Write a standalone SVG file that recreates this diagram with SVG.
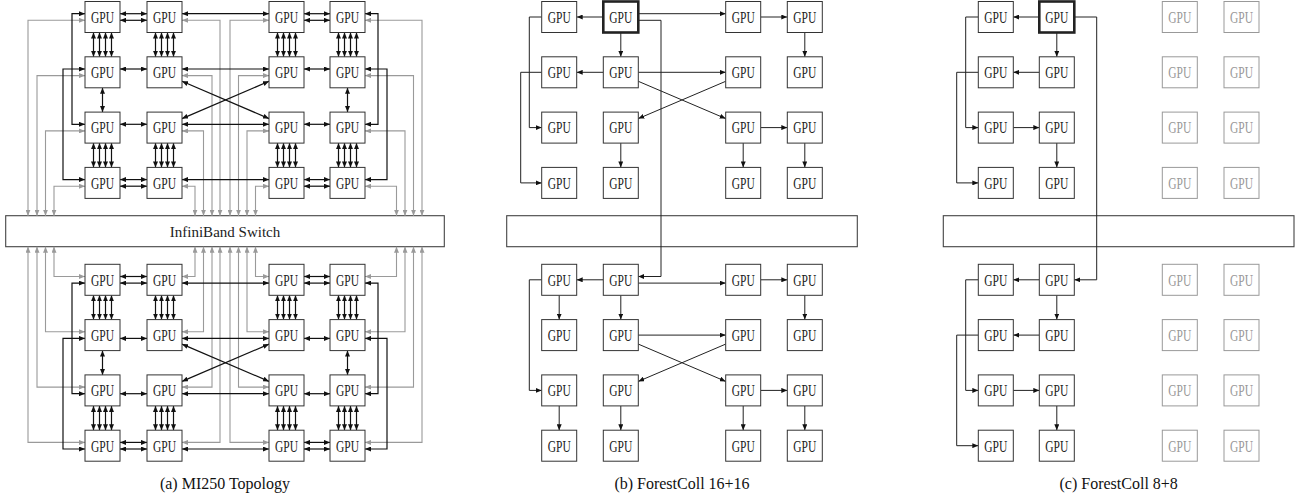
<svg xmlns="http://www.w3.org/2000/svg" width="1299" height="498" viewBox="0 0 1299 498">
<style>
.gpu rect{fill:#fff;stroke:#333;stroke-width:1}
.gpu text{font-family:"Liberation Serif","Times New Roman",serif;font-size:16.5px;text-anchor:middle;fill:#222}
.root rect{stroke:#222;stroke-width:2.6}
.off rect{stroke:#999}
.off text{fill:#999}
.sw rect{fill:none;stroke:#444;stroke-width:1.1}
.sw text{font-family:"Liberation Serif","Times New Roman",serif;font-size:15px;text-anchor:middle;fill:#222}
.bi{fill:none;stroke:#111;stroke-width:1.2;marker-start:url(#ak);marker-end:url(#ak)}
.gr{fill:none;stroke:#9a9a9a;stroke-width:1.1;marker-start:url(#ag);marker-end:url(#ag)}
.uni{fill:none;stroke:#222;stroke-width:1;marker-end:url(#ak)}
.cap{font-family:"Liberation Serif","Times New Roman",serif;font-size:16px;text-anchor:middle;fill:#111}
</style>
<defs>
<marker id="ak" viewBox="0 0 6 5" refX="6" refY="2.5" markerWidth="6" markerHeight="5" markerUnits="userSpaceOnUse" orient="auto-start-reverse"><path d="M0,0 L6,2.5 L0,5 Z" fill="#111"/></marker>
<marker id="ag" viewBox="0 0 6 5" refX="6" refY="2.5" markerWidth="6" markerHeight="5" markerUnits="userSpaceOnUse" orient="auto-start-reverse"><path d="M0,0 L6,2.5 L0,5 Z" fill="#9a9a9a"/></marker>
</defs>

<!-- switches -->
<g id="a-switch" class="sw"><rect x="5.7" y="215.7" width="438.6" height="31"/><text x="225" y="237">InfiniBand Switch</text></g>
<g id="b-switch" class="sw"><rect x="506.7" y="215.7" width="350.6" height="31"/></g>
<g id="c-switch" class="sw"><rect x="943.3" y="215.7" width="350.7" height="31"/></g>

<!-- connectors -->
<g id="connectors">
<path class="gr" d="M85,20.3 H28 V215.7"/>
<path class="gr" d="M85,75.6 H37 V215.7"/>
<path class="gr" d="M85,130.9 H45.5 V215.7"/>
<path class="gr" d="M85,186.2 H54 V215.7"/>
<path class="gr" d="M182,20.3 H220 V215.7"/>
<path class="gr" d="M182,75.6 H212 V215.7"/>
<path class="gr" d="M182,130.9 H203.5 V215.7"/>
<path class="gr" d="M182,186.2 H195 V215.7"/>
<path class="gr" d="M269,20.3 H230 V215.7"/>
<path class="gr" d="M269,75.6 H238.5 V215.7"/>
<path class="gr" d="M269,130.9 H247 V215.7"/>
<path class="gr" d="M269,186.2 H255.5 V215.7"/>
<path class="gr" d="M365,20.3 H422 V215.7"/>
<path class="gr" d="M365,75.6 H413.5 V215.7"/>
<path class="gr" d="M365,130.9 H405 V215.7"/>
<path class="gr" d="M365,186.2 H396.5 V215.7"/>
<path class="gr" d="M85,276.5 H54 V246.7"/>
<path class="gr" d="M85,331.8 H45.5 V246.7"/>
<path class="gr" d="M85,387.1 H37 V246.7"/>
<path class="gr" d="M85,442.4 H28 V246.7"/>
<path class="gr" d="M182,276.5 H195 V246.7"/>
<path class="gr" d="M182,331.8 H203.5 V246.7"/>
<path class="gr" d="M182,387.1 H212 V246.7"/>
<path class="gr" d="M182,442.4 H220 V246.7"/>
<path class="gr" d="M269,276.5 H255.5 V246.7"/>
<path class="gr" d="M269,331.8 H247 V246.7"/>
<path class="gr" d="M269,387.1 H238.5 V246.7"/>
<path class="gr" d="M269,442.4 H230 V246.7"/>
<path class="gr" d="M365,276.5 H396.5 V246.7"/>
<path class="gr" d="M365,331.8 H405 V246.7"/>
<path class="gr" d="M365,387.1 H413.5 V246.7"/>
<path class="gr" d="M365,442.4 H422 V246.7"/>

<path class="bi" d="M120,13.7 H147"/><path class="bi" d="M120,20.3 H147"/>
<path class="bi" d="M182,13.7 H269"/>
<path class="bi" d="M304,13.7 H330"/><path class="bi" d="M304,20.3 H330"/>
<path class="bi" d="M120,69 H147"/><path class="bi" d="M182,69 H269"/><path class="bi" d="M304,69 H330"/>
<path class="bi" d="M120,124.3 H147"/><path class="bi" d="M182,124.3 H269"/><path class="bi" d="M304,124.3 H330"/>
<path class="bi" d="M120,179.6 H147"/><path class="bi" d="M120,186.2 H147"/>
<path class="bi" d="M182,179.6 H269"/>
<path class="bi" d="M304,179.6 H330"/><path class="bi" d="M304,186.2 H330"/>
<path class="bi" d="M182,81.3 L269,118.6"/>
<path class="bi" d="M269,81.3 L182,118.6"/>
<path class="bi" d="M85,13.7 H72 V124.3 H85"/>
<path class="bi" d="M85,69 H63 V179.6 H85"/>
<path class="bi" d="M365,13.7 H378 V124.3 H365"/>
<path class="bi" d="M365,69 H387 V179.6 H365"/>
<path class="bi" d="M93.5,32.5 V56.8"/><path class="bi" d="M99.5,32.5 V56.8"/><path class="bi" d="M105.5,32.5 V56.8"/><path class="bi" d="M111.5,32.5 V56.8"/>
<path class="bi" d="M155.5,32.5 V56.8"/><path class="bi" d="M161.5,32.5 V56.8"/><path class="bi" d="M167.5,32.5 V56.8"/><path class="bi" d="M173.5,32.5 V56.8"/>
<path class="bi" d="M277.5,32.5 V56.8"/><path class="bi" d="M283.5,32.5 V56.8"/><path class="bi" d="M289.5,32.5 V56.8"/><path class="bi" d="M295.5,32.5 V56.8"/>
<path class="bi" d="M338.5,32.5 V56.8"/><path class="bi" d="M344.5,32.5 V56.8"/><path class="bi" d="M350.5,32.5 V56.8"/><path class="bi" d="M356.5,32.5 V56.8"/>
<path class="bi" d="M93.5,143.1 V167.4"/><path class="bi" d="M99.5,143.1 V167.4"/><path class="bi" d="M105.5,143.1 V167.4"/><path class="bi" d="M111.5,143.1 V167.4"/>
<path class="bi" d="M155.5,143.1 V167.4"/><path class="bi" d="M161.5,143.1 V167.4"/><path class="bi" d="M167.5,143.1 V167.4"/><path class="bi" d="M173.5,143.1 V167.4"/>
<path class="bi" d="M277.5,143.1 V167.4"/><path class="bi" d="M283.5,143.1 V167.4"/><path class="bi" d="M289.5,143.1 V167.4"/><path class="bi" d="M295.5,143.1 V167.4"/>
<path class="bi" d="M338.5,143.1 V167.4"/><path class="bi" d="M344.5,143.1 V167.4"/><path class="bi" d="M350.5,143.1 V167.4"/><path class="bi" d="M356.5,143.1 V167.4"/>
<path class="bi" d="M102.5,87.8 V112.1"/><path class="bi" d="M347.5,87.8 V112.1"/>

<path class="bi" d="M120,276.5 H147"/><path class="bi" d="M120,283.1 H147"/>
<path class="bi" d="M182,283.1 H269"/>
<path class="bi" d="M304,276.5 H330"/><path class="bi" d="M304,283.1 H330"/>
<path class="bi" d="M120,338.4 H147"/><path class="bi" d="M182,338.4 H269"/><path class="bi" d="M304,338.4 H330"/>
<path class="bi" d="M120,393.7 H147"/><path class="bi" d="M182,393.7 H269"/><path class="bi" d="M304,393.7 H330"/>
<path class="bi" d="M120,442.4 H147"/><path class="bi" d="M120,449 H147"/>
<path class="bi" d="M182,449 H269"/>
<path class="bi" d="M304,442.4 H330"/><path class="bi" d="M304,449 H330"/>
<path class="bi" d="M182,344.1 L269,381.4"/>
<path class="bi" d="M269,344.1 L182,381.4"/>
<path class="bi" d="M85,283.1 H72 V393.7 H85"/>
<path class="bi" d="M85,338.4 H63 V449 H85"/>
<path class="bi" d="M365,283.1 H378 V393.7 H365"/>
<path class="bi" d="M365,338.4 H387 V449 H365"/>
<path class="bi" d="M93.5,295.3 V319.6"/><path class="bi" d="M99.5,295.3 V319.6"/><path class="bi" d="M105.5,295.3 V319.6"/><path class="bi" d="M111.5,295.3 V319.6"/>
<path class="bi" d="M155.5,295.3 V319.6"/><path class="bi" d="M161.5,295.3 V319.6"/><path class="bi" d="M167.5,295.3 V319.6"/><path class="bi" d="M173.5,295.3 V319.6"/>
<path class="bi" d="M277.5,295.3 V319.6"/><path class="bi" d="M283.5,295.3 V319.6"/><path class="bi" d="M289.5,295.3 V319.6"/><path class="bi" d="M295.5,295.3 V319.6"/>
<path class="bi" d="M338.5,295.3 V319.6"/><path class="bi" d="M344.5,295.3 V319.6"/><path class="bi" d="M350.5,295.3 V319.6"/><path class="bi" d="M356.5,295.3 V319.6"/>
<path class="bi" d="M93.5,405.9 V430.2"/><path class="bi" d="M99.5,405.9 V430.2"/><path class="bi" d="M105.5,405.9 V430.2"/><path class="bi" d="M111.5,405.9 V430.2"/>
<path class="bi" d="M155.5,405.9 V430.2"/><path class="bi" d="M161.5,405.9 V430.2"/><path class="bi" d="M167.5,405.9 V430.2"/><path class="bi" d="M173.5,405.9 V430.2"/>
<path class="bi" d="M277.5,405.9 V430.2"/><path class="bi" d="M283.5,405.9 V430.2"/><path class="bi" d="M289.5,405.9 V430.2"/><path class="bi" d="M295.5,405.9 V430.2"/>
<path class="bi" d="M338.5,405.9 V430.2"/><path class="bi" d="M344.5,405.9 V430.2"/><path class="bi" d="M350.5,405.9 V430.2"/><path class="bi" d="M356.5,405.9 V430.2"/>
<path class="bi" d="M102.5,350.6 V374.9"/><path class="bi" d="M347.5,350.6 V374.9"/>

<path class="uni" d="M603.3,17 H576.7"/>
<path class="uni" d="M541.7,17 H529.3 V127.6 H541.7"/>
<path class="uni" d="M620.8,32.5 V56.8"/>
<path class="uni" d="M603.3,72.3 H576.7"/>
<path class="uni" d="M541.7,72.3 H520.7 V182.9 H541.7"/>
<path class="uni" d="M638.3,13.7 H725.7"/>
<path class="uni" d="M638.3,20.3 H661 V276.5 H638.3"/>
<path class="uni" d="M760.7,17 H787.3"/>
<path class="uni" d="M804.8,32.5 V56.8"/>
<path class="uni" d="M638.3,72.3 H725.7"/>
<path class="uni" d="M638.3,81.3 L725.7,118.6"/>
<path class="uni" d="M725.7,81.3 L638.3,118.6"/>
<path class="uni" d="M620.8,143.1 V167.4"/>
<path class="uni" d="M760.7,127.6 H787.3"/>
<path class="uni" d="M743.2,143.1 V167.4"/>
<path class="uni" d="M804.8,143.1 V167.4"/>
<path class="uni" d="M603.3,279.8 H576.7"/>
<path class="uni" d="M559.2,295.3 V319.6"/>
<path class="uni" d="M541.7,279.8 H529.3 V390.4 H541.7"/>
<path class="uni" d="M620.8,295.3 V319.6"/>
<path class="uni" d="M638.3,283.1 H725.7"/>
<path class="uni" d="M760.7,279.8 H787.3"/>
<path class="uni" d="M804.8,295.3 V319.6"/>
<path class="uni" d="M638.3,335.1 H725.7"/>
<path class="uni" d="M638.3,344.1 L725.7,381.4"/>
<path class="uni" d="M725.7,344.1 L638.3,381.4"/>
<path class="uni" d="M559.2,405.9 V430.2"/>
<path class="uni" d="M620.8,405.9 V430.2"/>
<path class="uni" d="M760.7,390.4 H787.3"/>
<path class="uni" d="M743.2,405.9 V430.2"/>
<path class="uni" d="M804.8,405.9 V430.2"/>

<path class="uni" d="M1039.3,17 H1013.3"/>
<path class="uni" d="M978.3,17 H965.7 V127.6 H978.3"/>
<path class="uni" d="M1056.8,32.5 V56.8"/>
<path class="uni" d="M1039.3,72.3 H1013.3"/>
<path class="uni" d="M978.3,72.3 H956.7 V182.9 H978.3"/>
<path class="uni" d="M1013.3,127.6 H1039.3"/>
<path class="uni" d="M1056.8,143.1 V167.4"/>
<path class="uni" d="M1074.3,17 H1096.7 V279.8 H1074.3"/>
<path class="uni" d="M1039.3,279.8 H1013.3"/>
<path class="uni" d="M978.3,279.8 H965.7 V390.4 H978.3"/>
<path class="uni" d="M1056.8,295.3 V319.6"/>
<path class="uni" d="M1039.3,335.1 H1013.3"/>
<path class="uni" d="M978.3,335.1 H956.7 V445.7 H978.3"/>
<path class="uni" d="M1013.3,390.4 H1039.3"/>
<path class="uni" d="M1056.8,405.9 V430.2"/>
</g>

<g id="a-t11" class="gpu"><rect x="85" y="1.5" width="35" height="31"/><text x="102.5" y="22.8" textLength="23" lengthAdjust="spacingAndGlyphs">GPU</text></g>
<g id="a-t12" class="gpu"><rect x="147" y="1.5" width="35" height="31"/><text x="164.5" y="22.8" textLength="23" lengthAdjust="spacingAndGlyphs">GPU</text></g>
<g id="a-t13" class="gpu"><rect x="269" y="1.5" width="35" height="31"/><text x="286.5" y="22.8" textLength="23" lengthAdjust="spacingAndGlyphs">GPU</text></g>
<g id="a-t14" class="gpu"><rect x="330" y="1.5" width="35" height="31"/><text x="347.5" y="22.8" textLength="23" lengthAdjust="spacingAndGlyphs">GPU</text></g>
<g id="a-t21" class="gpu"><rect x="85" y="56.8" width="35" height="31"/><text x="102.5" y="78.1" textLength="23" lengthAdjust="spacingAndGlyphs">GPU</text></g>
<g id="a-t22" class="gpu"><rect x="147" y="56.8" width="35" height="31"/><text x="164.5" y="78.1" textLength="23" lengthAdjust="spacingAndGlyphs">GPU</text></g>
<g id="a-t23" class="gpu"><rect x="269" y="56.8" width="35" height="31"/><text x="286.5" y="78.1" textLength="23" lengthAdjust="spacingAndGlyphs">GPU</text></g>
<g id="a-t24" class="gpu"><rect x="330" y="56.8" width="35" height="31"/><text x="347.5" y="78.1" textLength="23" lengthAdjust="spacingAndGlyphs">GPU</text></g>
<g id="a-t31" class="gpu"><rect x="85" y="112.1" width="35" height="31"/><text x="102.5" y="133.4" textLength="23" lengthAdjust="spacingAndGlyphs">GPU</text></g>
<g id="a-t32" class="gpu"><rect x="147" y="112.1" width="35" height="31"/><text x="164.5" y="133.4" textLength="23" lengthAdjust="spacingAndGlyphs">GPU</text></g>
<g id="a-t33" class="gpu"><rect x="269" y="112.1" width="35" height="31"/><text x="286.5" y="133.4" textLength="23" lengthAdjust="spacingAndGlyphs">GPU</text></g>
<g id="a-t34" class="gpu"><rect x="330" y="112.1" width="35" height="31"/><text x="347.5" y="133.4" textLength="23" lengthAdjust="spacingAndGlyphs">GPU</text></g>
<g id="a-t41" class="gpu"><rect x="85" y="167.4" width="35" height="31"/><text x="102.5" y="188.7" textLength="23" lengthAdjust="spacingAndGlyphs">GPU</text></g>
<g id="a-t42" class="gpu"><rect x="147" y="167.4" width="35" height="31"/><text x="164.5" y="188.7" textLength="23" lengthAdjust="spacingAndGlyphs">GPU</text></g>
<g id="a-t43" class="gpu"><rect x="269" y="167.4" width="35" height="31"/><text x="286.5" y="188.7" textLength="23" lengthAdjust="spacingAndGlyphs">GPU</text></g>
<g id="a-t44" class="gpu"><rect x="330" y="167.4" width="35" height="31"/><text x="347.5" y="188.7" textLength="23" lengthAdjust="spacingAndGlyphs">GPU</text></g>
<g id="a-b11" class="gpu"><rect x="85" y="264.3" width="35" height="31"/><text x="102.5" y="285.6" textLength="23" lengthAdjust="spacingAndGlyphs">GPU</text></g>
<g id="a-b12" class="gpu"><rect x="147" y="264.3" width="35" height="31"/><text x="164.5" y="285.6" textLength="23" lengthAdjust="spacingAndGlyphs">GPU</text></g>
<g id="a-b13" class="gpu"><rect x="269" y="264.3" width="35" height="31"/><text x="286.5" y="285.6" textLength="23" lengthAdjust="spacingAndGlyphs">GPU</text></g>
<g id="a-b14" class="gpu"><rect x="330" y="264.3" width="35" height="31"/><text x="347.5" y="285.6" textLength="23" lengthAdjust="spacingAndGlyphs">GPU</text></g>
<g id="a-b21" class="gpu"><rect x="85" y="319.6" width="35" height="31"/><text x="102.5" y="340.9" textLength="23" lengthAdjust="spacingAndGlyphs">GPU</text></g>
<g id="a-b22" class="gpu"><rect x="147" y="319.6" width="35" height="31"/><text x="164.5" y="340.9" textLength="23" lengthAdjust="spacingAndGlyphs">GPU</text></g>
<g id="a-b23" class="gpu"><rect x="269" y="319.6" width="35" height="31"/><text x="286.5" y="340.9" textLength="23" lengthAdjust="spacingAndGlyphs">GPU</text></g>
<g id="a-b24" class="gpu"><rect x="330" y="319.6" width="35" height="31"/><text x="347.5" y="340.9" textLength="23" lengthAdjust="spacingAndGlyphs">GPU</text></g>
<g id="a-b31" class="gpu"><rect x="85" y="374.9" width="35" height="31"/><text x="102.5" y="396.2" textLength="23" lengthAdjust="spacingAndGlyphs">GPU</text></g>
<g id="a-b32" class="gpu"><rect x="147" y="374.9" width="35" height="31"/><text x="164.5" y="396.2" textLength="23" lengthAdjust="spacingAndGlyphs">GPU</text></g>
<g id="a-b33" class="gpu"><rect x="269" y="374.9" width="35" height="31"/><text x="286.5" y="396.2" textLength="23" lengthAdjust="spacingAndGlyphs">GPU</text></g>
<g id="a-b34" class="gpu"><rect x="330" y="374.9" width="35" height="31"/><text x="347.5" y="396.2" textLength="23" lengthAdjust="spacingAndGlyphs">GPU</text></g>
<g id="a-b41" class="gpu"><rect x="85" y="430.2" width="35" height="31"/><text x="102.5" y="451.5" textLength="23" lengthAdjust="spacingAndGlyphs">GPU</text></g>
<g id="a-b42" class="gpu"><rect x="147" y="430.2" width="35" height="31"/><text x="164.5" y="451.5" textLength="23" lengthAdjust="spacingAndGlyphs">GPU</text></g>
<g id="a-b43" class="gpu"><rect x="269" y="430.2" width="35" height="31"/><text x="286.5" y="451.5" textLength="23" lengthAdjust="spacingAndGlyphs">GPU</text></g>
<g id="a-b44" class="gpu"><rect x="330" y="430.2" width="35" height="31"/><text x="347.5" y="451.5" textLength="23" lengthAdjust="spacingAndGlyphs">GPU</text></g>

<g id="b-t11" class="gpu"><rect x="541.7" y="1.5" width="35" height="31"/><text x="559.2" y="22.8" textLength="23" lengthAdjust="spacingAndGlyphs">GPU</text></g>
<g id="b-t12" class="gpu root"><rect x="603.3" y="1.5" width="35" height="31"/><text x="620.8" y="22.8" textLength="23" lengthAdjust="spacingAndGlyphs">GPU</text></g>
<g id="b-t13" class="gpu"><rect x="725.7" y="1.5" width="35" height="31"/><text x="743.2" y="22.8" textLength="23" lengthAdjust="spacingAndGlyphs">GPU</text></g>
<g id="b-t14" class="gpu"><rect x="787.3" y="1.5" width="35" height="31"/><text x="804.8" y="22.8" textLength="23" lengthAdjust="spacingAndGlyphs">GPU</text></g>
<g id="b-t21" class="gpu"><rect x="541.7" y="56.8" width="35" height="31"/><text x="559.2" y="78.1" textLength="23" lengthAdjust="spacingAndGlyphs">GPU</text></g>
<g id="b-t22" class="gpu"><rect x="603.3" y="56.8" width="35" height="31"/><text x="620.8" y="78.1" textLength="23" lengthAdjust="spacingAndGlyphs">GPU</text></g>
<g id="b-t23" class="gpu"><rect x="725.7" y="56.8" width="35" height="31"/><text x="743.2" y="78.1" textLength="23" lengthAdjust="spacingAndGlyphs">GPU</text></g>
<g id="b-t24" class="gpu"><rect x="787.3" y="56.8" width="35" height="31"/><text x="804.8" y="78.1" textLength="23" lengthAdjust="spacingAndGlyphs">GPU</text></g>
<g id="b-t31" class="gpu"><rect x="541.7" y="112.1" width="35" height="31"/><text x="559.2" y="133.4" textLength="23" lengthAdjust="spacingAndGlyphs">GPU</text></g>
<g id="b-t32" class="gpu"><rect x="603.3" y="112.1" width="35" height="31"/><text x="620.8" y="133.4" textLength="23" lengthAdjust="spacingAndGlyphs">GPU</text></g>
<g id="b-t33" class="gpu"><rect x="725.7" y="112.1" width="35" height="31"/><text x="743.2" y="133.4" textLength="23" lengthAdjust="spacingAndGlyphs">GPU</text></g>
<g id="b-t34" class="gpu"><rect x="787.3" y="112.1" width="35" height="31"/><text x="804.8" y="133.4" textLength="23" lengthAdjust="spacingAndGlyphs">GPU</text></g>
<g id="b-t41" class="gpu"><rect x="541.7" y="167.4" width="35" height="31"/><text x="559.2" y="188.7" textLength="23" lengthAdjust="spacingAndGlyphs">GPU</text></g>
<g id="b-t42" class="gpu"><rect x="603.3" y="167.4" width="35" height="31"/><text x="620.8" y="188.7" textLength="23" lengthAdjust="spacingAndGlyphs">GPU</text></g>
<g id="b-t43" class="gpu"><rect x="725.7" y="167.4" width="35" height="31"/><text x="743.2" y="188.7" textLength="23" lengthAdjust="spacingAndGlyphs">GPU</text></g>
<g id="b-t44" class="gpu"><rect x="787.3" y="167.4" width="35" height="31"/><text x="804.8" y="188.7" textLength="23" lengthAdjust="spacingAndGlyphs">GPU</text></g>
<g id="b-b11" class="gpu"><rect x="541.7" y="264.3" width="35" height="31"/><text x="559.2" y="285.6" textLength="23" lengthAdjust="spacingAndGlyphs">GPU</text></g>
<g id="b-b12" class="gpu"><rect x="603.3" y="264.3" width="35" height="31"/><text x="620.8" y="285.6" textLength="23" lengthAdjust="spacingAndGlyphs">GPU</text></g>
<g id="b-b13" class="gpu"><rect x="725.7" y="264.3" width="35" height="31"/><text x="743.2" y="285.6" textLength="23" lengthAdjust="spacingAndGlyphs">GPU</text></g>
<g id="b-b14" class="gpu"><rect x="787.3" y="264.3" width="35" height="31"/><text x="804.8" y="285.6" textLength="23" lengthAdjust="spacingAndGlyphs">GPU</text></g>
<g id="b-b21" class="gpu"><rect x="541.7" y="319.6" width="35" height="31"/><text x="559.2" y="340.9" textLength="23" lengthAdjust="spacingAndGlyphs">GPU</text></g>
<g id="b-b22" class="gpu"><rect x="603.3" y="319.6" width="35" height="31"/><text x="620.8" y="340.9" textLength="23" lengthAdjust="spacingAndGlyphs">GPU</text></g>
<g id="b-b23" class="gpu"><rect x="725.7" y="319.6" width="35" height="31"/><text x="743.2" y="340.9" textLength="23" lengthAdjust="spacingAndGlyphs">GPU</text></g>
<g id="b-b24" class="gpu"><rect x="787.3" y="319.6" width="35" height="31"/><text x="804.8" y="340.9" textLength="23" lengthAdjust="spacingAndGlyphs">GPU</text></g>
<g id="b-b31" class="gpu"><rect x="541.7" y="374.9" width="35" height="31"/><text x="559.2" y="396.2" textLength="23" lengthAdjust="spacingAndGlyphs">GPU</text></g>
<g id="b-b32" class="gpu"><rect x="603.3" y="374.9" width="35" height="31"/><text x="620.8" y="396.2" textLength="23" lengthAdjust="spacingAndGlyphs">GPU</text></g>
<g id="b-b33" class="gpu"><rect x="725.7" y="374.9" width="35" height="31"/><text x="743.2" y="396.2" textLength="23" lengthAdjust="spacingAndGlyphs">GPU</text></g>
<g id="b-b34" class="gpu"><rect x="787.3" y="374.9" width="35" height="31"/><text x="804.8" y="396.2" textLength="23" lengthAdjust="spacingAndGlyphs">GPU</text></g>
<g id="b-b41" class="gpu"><rect x="541.7" y="430.2" width="35" height="31"/><text x="559.2" y="451.5" textLength="23" lengthAdjust="spacingAndGlyphs">GPU</text></g>
<g id="b-b42" class="gpu"><rect x="603.3" y="430.2" width="35" height="31"/><text x="620.8" y="451.5" textLength="23" lengthAdjust="spacingAndGlyphs">GPU</text></g>
<g id="b-b43" class="gpu"><rect x="725.7" y="430.2" width="35" height="31"/><text x="743.2" y="451.5" textLength="23" lengthAdjust="spacingAndGlyphs">GPU</text></g>
<g id="b-b44" class="gpu"><rect x="787.3" y="430.2" width="35" height="31"/><text x="804.8" y="451.5" textLength="23" lengthAdjust="spacingAndGlyphs">GPU</text></g>

<g id="c-t11" class="gpu"><rect x="978.3" y="1.5" width="35" height="31"/><text x="995.8" y="22.8" textLength="23" lengthAdjust="spacingAndGlyphs">GPU</text></g>
<g id="c-t12" class="gpu root"><rect x="1039.3" y="1.5" width="35" height="31"/><text x="1056.8" y="22.8" textLength="23" lengthAdjust="spacingAndGlyphs">GPU</text></g>
<g id="c-t13" class="gpu off"><rect x="1162.3" y="1.5" width="35" height="31"/><text x="1179.8" y="22.8" textLength="23" lengthAdjust="spacingAndGlyphs">GPU</text></g>
<g id="c-t14" class="gpu off"><rect x="1224" y="1.5" width="35" height="31"/><text x="1241.5" y="22.8" textLength="23" lengthAdjust="spacingAndGlyphs">GPU</text></g>
<g id="c-t21" class="gpu"><rect x="978.3" y="56.8" width="35" height="31"/><text x="995.8" y="78.1" textLength="23" lengthAdjust="spacingAndGlyphs">GPU</text></g>
<g id="c-t22" class="gpu"><rect x="1039.3" y="56.8" width="35" height="31"/><text x="1056.8" y="78.1" textLength="23" lengthAdjust="spacingAndGlyphs">GPU</text></g>
<g id="c-t23" class="gpu off"><rect x="1162.3" y="56.8" width="35" height="31"/><text x="1179.8" y="78.1" textLength="23" lengthAdjust="spacingAndGlyphs">GPU</text></g>
<g id="c-t24" class="gpu off"><rect x="1224" y="56.8" width="35" height="31"/><text x="1241.5" y="78.1" textLength="23" lengthAdjust="spacingAndGlyphs">GPU</text></g>
<g id="c-t31" class="gpu"><rect x="978.3" y="112.1" width="35" height="31"/><text x="995.8" y="133.4" textLength="23" lengthAdjust="spacingAndGlyphs">GPU</text></g>
<g id="c-t32" class="gpu"><rect x="1039.3" y="112.1" width="35" height="31"/><text x="1056.8" y="133.4" textLength="23" lengthAdjust="spacingAndGlyphs">GPU</text></g>
<g id="c-t33" class="gpu off"><rect x="1162.3" y="112.1" width="35" height="31"/><text x="1179.8" y="133.4" textLength="23" lengthAdjust="spacingAndGlyphs">GPU</text></g>
<g id="c-t34" class="gpu off"><rect x="1224" y="112.1" width="35" height="31"/><text x="1241.5" y="133.4" textLength="23" lengthAdjust="spacingAndGlyphs">GPU</text></g>
<g id="c-t41" class="gpu"><rect x="978.3" y="167.4" width="35" height="31"/><text x="995.8" y="188.7" textLength="23" lengthAdjust="spacingAndGlyphs">GPU</text></g>
<g id="c-t42" class="gpu"><rect x="1039.3" y="167.4" width="35" height="31"/><text x="1056.8" y="188.7" textLength="23" lengthAdjust="spacingAndGlyphs">GPU</text></g>
<g id="c-t43" class="gpu off"><rect x="1162.3" y="167.4" width="35" height="31"/><text x="1179.8" y="188.7" textLength="23" lengthAdjust="spacingAndGlyphs">GPU</text></g>
<g id="c-t44" class="gpu off"><rect x="1224" y="167.4" width="35" height="31"/><text x="1241.5" y="188.7" textLength="23" lengthAdjust="spacingAndGlyphs">GPU</text></g>
<g id="c-b11" class="gpu"><rect x="978.3" y="264.3" width="35" height="31"/><text x="995.8" y="285.6" textLength="23" lengthAdjust="spacingAndGlyphs">GPU</text></g>
<g id="c-b12" class="gpu"><rect x="1039.3" y="264.3" width="35" height="31"/><text x="1056.8" y="285.6" textLength="23" lengthAdjust="spacingAndGlyphs">GPU</text></g>
<g id="c-b13" class="gpu off"><rect x="1162.3" y="264.3" width="35" height="31"/><text x="1179.8" y="285.6" textLength="23" lengthAdjust="spacingAndGlyphs">GPU</text></g>
<g id="c-b14" class="gpu off"><rect x="1224" y="264.3" width="35" height="31"/><text x="1241.5" y="285.6" textLength="23" lengthAdjust="spacingAndGlyphs">GPU</text></g>
<g id="c-b21" class="gpu"><rect x="978.3" y="319.6" width="35" height="31"/><text x="995.8" y="340.9" textLength="23" lengthAdjust="spacingAndGlyphs">GPU</text></g>
<g id="c-b22" class="gpu"><rect x="1039.3" y="319.6" width="35" height="31"/><text x="1056.8" y="340.9" textLength="23" lengthAdjust="spacingAndGlyphs">GPU</text></g>
<g id="c-b23" class="gpu off"><rect x="1162.3" y="319.6" width="35" height="31"/><text x="1179.8" y="340.9" textLength="23" lengthAdjust="spacingAndGlyphs">GPU</text></g>
<g id="c-b24" class="gpu off"><rect x="1224" y="319.6" width="35" height="31"/><text x="1241.5" y="340.9" textLength="23" lengthAdjust="spacingAndGlyphs">GPU</text></g>
<g id="c-b31" class="gpu"><rect x="978.3" y="374.9" width="35" height="31"/><text x="995.8" y="396.2" textLength="23" lengthAdjust="spacingAndGlyphs">GPU</text></g>
<g id="c-b32" class="gpu"><rect x="1039.3" y="374.9" width="35" height="31"/><text x="1056.8" y="396.2" textLength="23" lengthAdjust="spacingAndGlyphs">GPU</text></g>
<g id="c-b33" class="gpu off"><rect x="1162.3" y="374.9" width="35" height="31"/><text x="1179.8" y="396.2" textLength="23" lengthAdjust="spacingAndGlyphs">GPU</text></g>
<g id="c-b34" class="gpu off"><rect x="1224" y="374.9" width="35" height="31"/><text x="1241.5" y="396.2" textLength="23" lengthAdjust="spacingAndGlyphs">GPU</text></g>
<g id="c-b41" class="gpu"><rect x="978.3" y="430.2" width="35" height="31"/><text x="995.8" y="451.5" textLength="23" lengthAdjust="spacingAndGlyphs">GPU</text></g>
<g id="c-b42" class="gpu"><rect x="1039.3" y="430.2" width="35" height="31"/><text x="1056.8" y="451.5" textLength="23" lengthAdjust="spacingAndGlyphs">GPU</text></g>
<g id="c-b43" class="gpu off"><rect x="1162.3" y="430.2" width="35" height="31"/><text x="1179.8" y="451.5" textLength="23" lengthAdjust="spacingAndGlyphs">GPU</text></g>
<g id="c-b44" class="gpu off"><rect x="1224" y="430.2" width="35" height="31"/><text x="1241.5" y="451.5" textLength="23" lengthAdjust="spacingAndGlyphs">GPU</text></g>

<text class="cap" x="225" y="489">(a) MI250 Topology</text>
<text class="cap" x="682" y="489">(b) ForestColl 16+16</text>
<text class="cap" x="1118.7" y="489">(c) ForestColl 8+8</text>
</svg>
